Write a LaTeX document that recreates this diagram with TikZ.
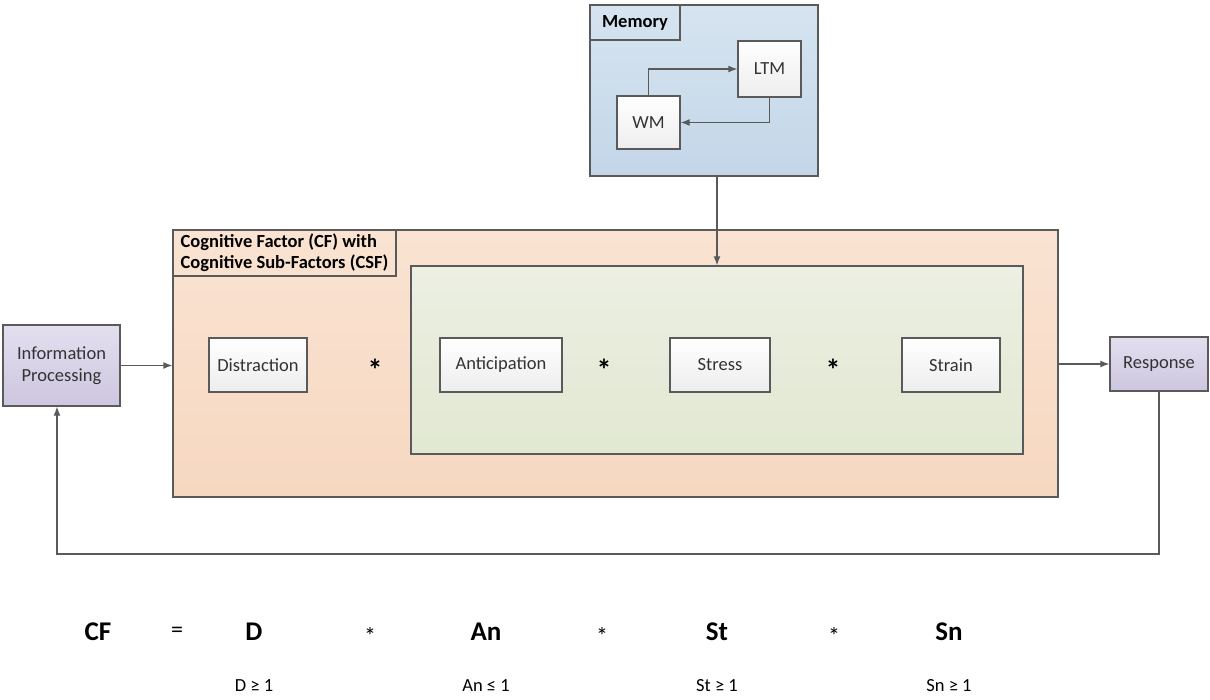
\documentclass[tikz,border=0pt]{standalone}
\usepackage{fontspec}
\setmainfont{Carlito}
\usetikzlibrary{arrows.meta,positioning}

\definecolor{boxline}{HTML}{5A5A5A}
\definecolor{memtop}{HTML}{D6E4F0}
\definecolor{membot}{HTML}{C3D6E8}
\definecolor{cftop}{HTML}{FAE3D2}
\definecolor{cfbot}{HTML}{F6D8C1}
\definecolor{gntop}{HTML}{ECEFE2}
\definecolor{gnbot}{HTML}{E1E8D2}
\definecolor{pptop}{HTML}{E3DFEF}
\definecolor{ppbot}{HTML}{CDC6DF}

\tikzset{
  >={Latex[length=9pt,width=7pt]},
  box/.style={draw=boxline, line width=1.3pt, top color=white, bottom color=black!7,
    text=black!80, font=\fontsize{18.5}{22}\selectfont, inner sep=0pt},
  endbox/.style={box, top color=pptop, bottom color=ppbot, align=center},
  group/.style={draw=boxline, line width=1.3pt, inner sep=0pt},
  title/.style={draw=boxline, line width=1.3pt, anchor=north west, inner sep=2pt,
    font=\fontsize{18.5}{21}\selectfont\bfseries, align=left},
  link/.style={draw=boxline, line width=1.3pt},
  times/.style={font=\fontsize{30}{30}\selectfont\bfseries, inner sep=0pt, yshift=-5pt},
  term/.style={font=\fontsize{27}{30}\selectfont\bfseries},
  op/.style={font=\fontsize{24}{26}\selectfont, inner sep=0pt},
  cond/.style={font=\fontsize{18.5}{22}\selectfont}
}

\begin{document}
\begin{tikzpicture}[x=1pt, y=-1pt]
\useasboundingbox (0,0) rectangle (1210,700);

% memory block
\node (mem) [group, top color=memtop, bottom color=membot,
  minimum width=228, minimum height=171] at (704,90.5) {};
\node (memtitle) [title, minimum width=90, minimum height=35] at (mem.north west) {Memory};
\node (ltm) [box, minimum width=63, minimum height=56] at (769.5,69) {LTM};
\node (wm) [box, minimum width=63, minimum height=53] at (648.5,122.5) {WM};

% cognitive factor block
\node (cf) [group, top color=cftop, bottom color=cfbot,
  minimum width=885, minimum height=267] at (615.5,363.5) {};
\node (cftitle) [title, minimum width=223, minimum height=46] at (cf.north west)
  {Cognitive Factor (CF) with\\Cognitive Sub-Factors (CSF)};
\node (csf) [group, top color=gntop, bottom color=gnbot,
  minimum width=612, minimum height=188] at (717,360) {};

\node (dist) [box, minimum width=98, minimum height=54] at (258,365) {Distraction};
\node (star1) [times] at (375,365) {*};
\node (antic) [box, minimum width=122, minimum height=54] at (501,365) {Anticipation};
\node (star2) [times] at (604,365) {*};
\node (stress) [box, minimum width=100, minimum height=54] at (720,365) {Stress};
\node (star3) [times] at (833,365) {*};
\node (strain) [box, minimum width=98, minimum height=54] at (951,365) {Strain};

% input and output
\node (info) [endbox, minimum width=117, minimum height=81] at (61.5,365.5)
  {Information\\Processing};
\node (resp) [endbox, minimum width=98, minimum height=54] at (1159,364) {Response};
\coordinate (back) at (0,554);

\draw[link, ->] (wm.north) |- (ltm.west);
\draw[link, ->] (ltm.south) |- (wm.east);
\draw[link, ->] (csf.north |- mem.south) -- (csf.north);
\draw[link, ->] (info.east) -- (info.east -| cf.west);
\draw[link, ->] (cf.east |- resp.west) -- (resp.west);
\draw[link, ->] (resp.south) -- (resp.south |- back)
  -- ([xshift=-4.5pt]info.south |- back) -- ([xshift=-4.5pt]info.south);

% formula
\node (cfsym) [term] at (98,632) {CF};
\node (eq) [op] at (177,632) {=};
\node (dsym) [term] at (254,632) {D};
\node (m1) [op, yshift=-4pt] at (370,632) {*};
\node (ansym) [term] at (486,632) {An};
\node (m2) [op, yshift=-4pt] at (602,632) {*};
\node (stsym) [term] at (717,632) {St};
\node (m3) [op, yshift=-4pt] at (834,632) {*};
\node (snsym) [term] at (949,632) {Sn};

\node (dcond) [cond] at (254,686) {D ≥ 1};
\node (ancond) [cond] at (486,686) {An ≤ 1};
\node (stcond) [cond] at (717,686) {St ≥ 1};
\node (sncond) [cond] at (949,686) {Sn ≥ 1};
\end{tikzpicture}
\end{document}
